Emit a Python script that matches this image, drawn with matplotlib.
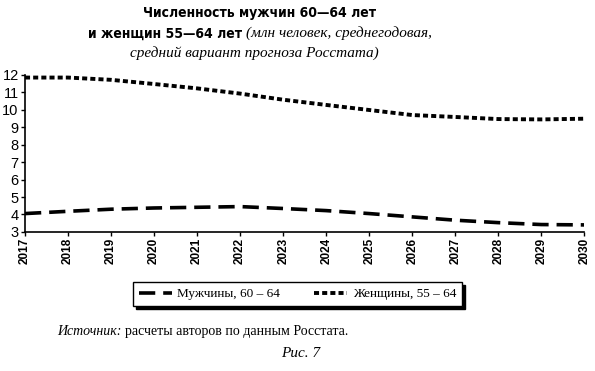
import matplotlib.pyplot as plt
import numpy as np

# Данные (млн человек, средний вариант прогноза Росстата)
years = [2017, 2018, 2019, 2020, 2021, 2022, 2023,
         2024, 2025, 2026, 2027, 2028, 2029, 2030]
men_60_64 = [4.05, 4.18, 4.30, 4.37, 4.41, 4.45, 4.34,
             4.22, 4.05, 3.86, 3.67, 3.53, 3.42, 3.40]
women_55_64 = [11.85, 11.85, 11.72, 11.48, 11.23, 10.93, 10.58,
               10.28, 9.99, 9.70, 9.59, 9.47, 9.45, 9.49]
yticks = list(range(3, 13))

SERIF = ['Liberation Serif', 'DejaVu Serif']
SANS = ['Liberation Sans', 'DejaVu Sans']
COND = ['DejaVu Sans']

plt.rcParams['font.family'] = SANS

fig = plt.figure(figsize=(5.95, 3.71), dpi=100)
ax = fig.add_axes([0.042, 0.375, 0.940, 0.423])

ax.plot(years, men_60_64, color='black', linewidth=2.6,
        linestyle=(0, (4.5, 2.2)), label='Мужчины, 60 – 64')
ax.plot(years, women_55_64, color='black', linewidth=2.8,
        linestyle=(0, (1.3, 0.8)), label='Женщины, 55 – 64')

ax.set_xlim(years[0], years[-1])
ax.set_ylim(3, 12)
ax.set_xticks(years)
ax.set_xticklabels([str(y) for y in years], rotation=90,
                   fontsize=8.5, fontweight='bold')
ax.set_yticks(yticks)
ax.set_yticklabels([str(v) for v in yticks], fontsize=10.5)
ax.tick_params(axis='both', direction='out', length=3, width=1, pad=1.5)
for side in ['top', 'right']:
    ax.spines[side].set_visible(False)
for side in ['left', 'bottom']:
    ax.spines[side].set_linewidth(1.2)

# Заголовок
fig.text(0.437, 0.965, 'Численность мужчин 60—64 лет', ha='center', va='center',
         fontsize=10, fontweight='bold', family=COND, fontstretch='condensed')
b = fig.text(0.148, 0.910, 'и женщин 55—64 лет', ha='left', va='center',
             fontsize=10, fontweight='bold', family=COND, fontstretch='condensed')
fig.canvas.draw()
r = fig.canvas.get_renderer()
x1 = b.get_window_extent(r).x1 / fig.bbox.width
fig.text(x1 + 0.006, 0.910, '(млн человек, среднегодовая,', ha='left', va='center',
         fontsize=11, style='italic', family=SERIF)
fig.text(0.428, 0.857, 'средний вариант прогноза Росстата)', ha='center', va='center',
         fontsize=11, style='italic', family=SERIF)

# Легенда
leg = fig.legend(loc='center', bbox_to_anchor=(0.50, 0.207), ncol=2,
                 frameon=True, fancybox=False, edgecolor='black',
                 shadow={'color': 'black', 'alpha': 1},
                 prop={'family': SERIF, 'size': 9.5},
                 handlelength=2.5, columnspacing=2.6, borderpad=0.45,
                 handletextpad=0.4)
leg.get_frame().set_linewidth(1.0)

# Источник и подпись
s = fig.text(0.096, 0.107, 'Источник:', ha='left', va='center',
             fontsize=10, style='italic', family=SERIF)
fig.canvas.draw()
sx = s.get_window_extent(fig.canvas.get_renderer()).x1 / fig.bbox.width
fig.text(sx + 0.006, 0.107, 'расчеты авторов по данным Росстата.', ha='left',
         va='center', fontsize=10, family=SERIF)
fig.text(0.505, 0.048, 'Рис. 7', ha='center', va='center',
         fontsize=11, style='italic', family=SERIF)

fig.savefig('out.png', dpi=100, facecolor='white')
